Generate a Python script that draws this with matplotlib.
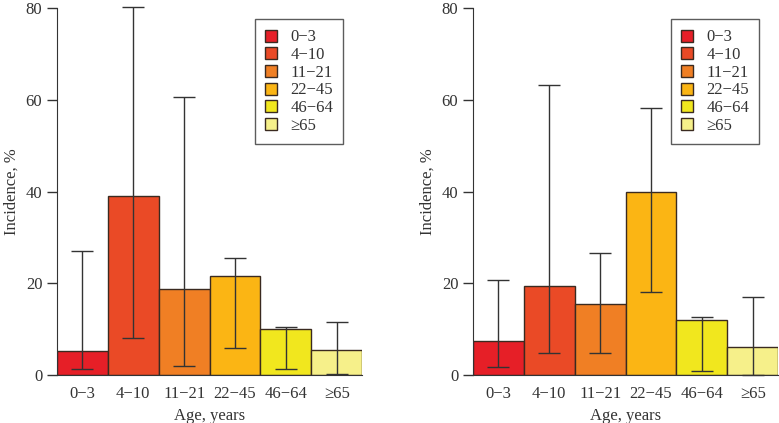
import numpy as np
import matplotlib
matplotlib.use("Agg")
import matplotlib.pyplot as plt

plt.rcParams['font.family'] = ['Liberation Serif', 'DejaVu Serif']

# Dados
grupos = ['0\u22123', '4\u221210', '11\u221221', '22\u221245', '46\u221264', '\u226565']
cores = ['#e61f27', '#ea4a26', '#f07f24', '#fbb514', '#f1e71e', '#f6f08a']

# painel esquerdo
incid_esq = [5.2, 39.1, 18.8, 21.5, 10.0, 5.5]
inf_esq = [1.3, 8.0, 2.0, 5.9, 1.2, 0.3]
sup_esq = [27.0, 80.3, 60.5, 25.6, 10.4, 11.6]

# painel direito
incid_dir = [7.5, 19.5, 15.4, 39.9, 12.0, 6.0]
inf_dir = [1.8, 4.8, 4.9, 18.0, 0.9, 0.0]
sup_dir = [20.7, 63.2, 26.5, 58.1, 12.7, 16.9]

cinza = '#333333'

fig = plt.figure(figsize=(7.79, 4.23), dpi=100)
ax1 = fig.add_axes([0.073, 0.1135, 0.392, 0.8675])
ax2 = fig.add_axes([0.607, 0.1135, 0.392, 0.8675])


def painel(ax, incid, inf, sup):
    x = np.arange(len(grupos))
    barras = ax.bar(x, incid, width=1.0, color=cores, edgecolor='#3a2a20', linewidth=1.0)
    erro = [np.array(incid) - np.array(inf), np.array(sup) - np.array(incid)]
    eb = ax.errorbar(x, incid, yerr=erro, fmt='none', ecolor=cinza, elinewidth=1.0,
                     capsize=8, capthick=1.0)
    for parte in eb.lines[1] + eb.lines[2]:
        parte.set_clip_on(False)
    ax.set_xlim(-0.5, len(grupos) - 0.5)
    ax.set_ylim(0, 80)
    ax.set_yticks([0, 20, 40, 60, 80])
    ax.set_xticks(x)
    ax.set_xticklabels(grupos, fontsize=12)
    ax.tick_params(axis='x', length=0, pad=8, labelcolor=cinza)
    ax.tick_params(axis='y', labelsize=12, length=7, width=1.0, direction='out', colors=cinza,
                   labelcolor=cinza)
    for s in ['top', 'right']:
        ax.spines[s].set_visible(False)
    ax.spines['left'].set_color(cinza)
    ax.spines['bottom'].set_color(cinza)
    ax.set_ylabel('Incidence, %', fontsize=12, color=cinza)
    ax.set_xlabel('Age, years', fontsize=12, color=cinza, labelpad=4)
    leg = ax.legend(barras, grupos, loc='upper right', bbox_to_anchor=(0.938, 0.969),
                    fontsize=12, frameon=True, fancybox=False, edgecolor=cinza,
                    handlelength=0.72, handleheight=0.72, handletextpad=0.8,
                    labelspacing=0.1, borderpad=0.6, borderaxespad=0)
    leg.get_frame().set_linewidth(1.0)
    for t in leg.get_texts():
        t.set_color(cinza)


painel(ax1, incid_esq, inf_esq, sup_esq)
painel(ax2, incid_dir, inf_dir, sup_dir)

fig.savefig('out.png', dpi=100)
